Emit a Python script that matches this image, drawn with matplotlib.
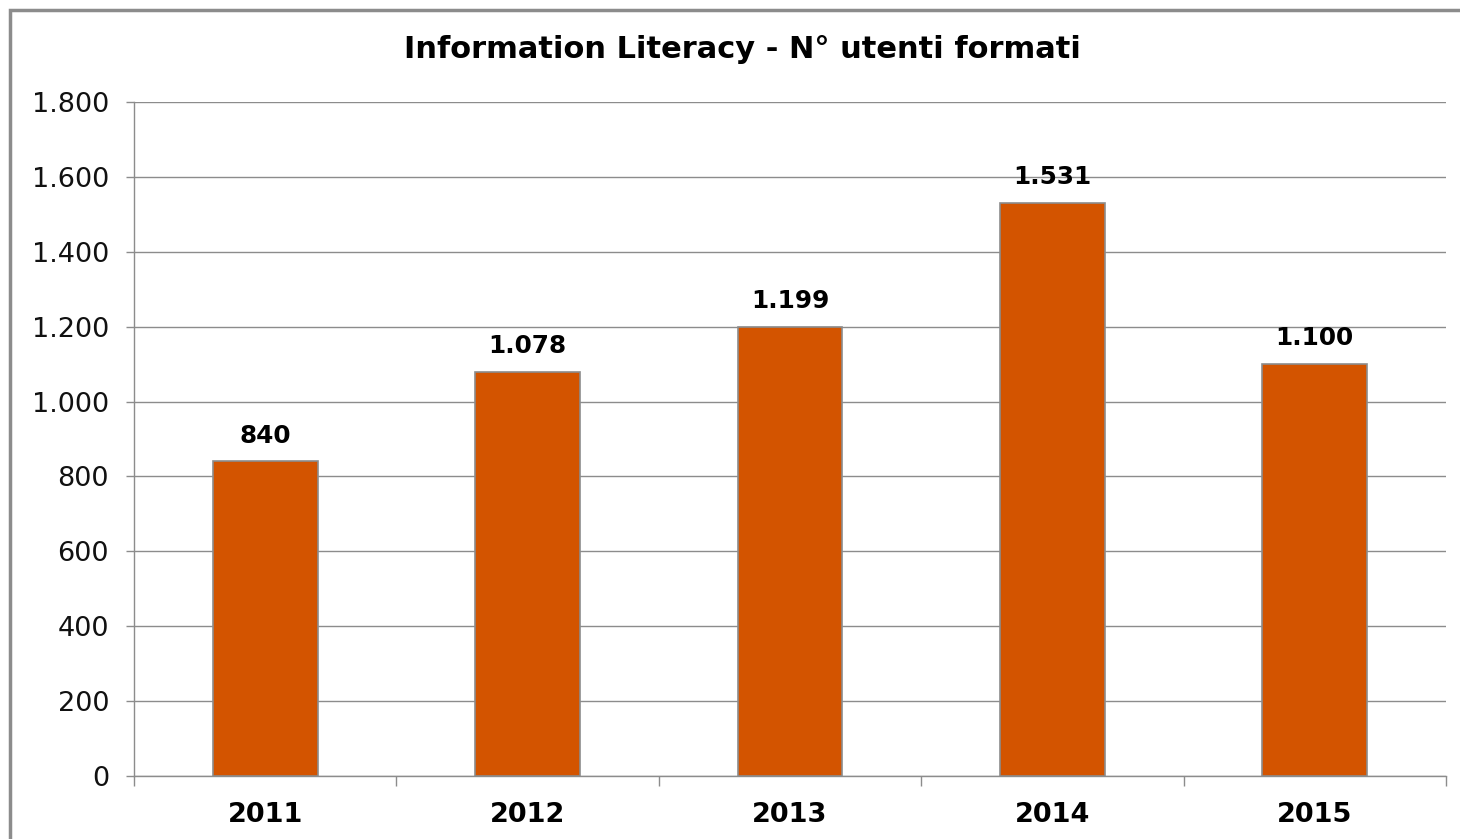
import matplotlib
matplotlib.use("Agg")
import matplotlib.pyplot as plt
from matplotlib.patches import Rectangle

years = ["2011", "2012", "2013", "2014", "2015"]
values = [840, 1078, 1199, 1531, 1100]
yticks = [0, 200, 400, 600, 800, 1000, 1200, 1400, 1600, 1800]

def fmt(v):
    return f"{v:,}".replace(",", ".")

plt.rcParams['font.family'] = ['DejaVu Sans']

fig = plt.figure(figsize=(14.6, 8.39), dpi=100)
W, H = 1460, 839
ax = fig.add_axes([134 / W, 1 - 776 / H, (1446 - 134) / W, (776 - 102) / H])

x = list(range(len(years)))
ax.bar(x, values, width=0.4, color="#D35400", edgecolor="#8C8C8C", linewidth=1.2, zorder=3)

ax.set_xlim(-0.5, len(years) - 0.5)
ax.set_ylim(0, 1800)
ax.set_yticks(yticks)
ax.set_yticklabels([fmt(v) for v in yticks], fontsize=19.5, color="#111111")
ax.yaxis.grid(True, color="#8C8C8C", linewidth=1.0, zorder=0)
ax.set_axisbelow(True)

ax.set_xticks(x)
ax.set_xticklabels(years, fontsize=19.5, fontweight="bold")
ax.set_xticks([i - 0.5 for i in range(len(years) + 1)], minor=True)
ax.tick_params(axis="x", which="major", length=0, pad=18.5)
ax.tick_params(axis="x", which="minor", length=7, color="#8C8C8C", width=1.0)
ax.tick_params(axis="y", length=6, color="#8C8C8C", width=1.0, pad=12)

for s in ["top", "right"]:
    ax.spines[s].set_visible(False)
for s in ["left", "bottom"]:
    ax.spines[s].set_color("#8C8C8C")
    ax.spines[s].set_linewidth(1.0)

for xi, v in zip(x, values):
    ax.annotate(fmt(v), (xi, v), xytext=(0, 10), textcoords="offset points",
                ha="center", va="bottom", fontsize=17.8, fontweight="bold", zorder=5)

fig.text(742 / W, 1 - 50 / H, "Information Literacy - N° utenti formati",
         ha="center", va="center", fontsize=22, fontweight="bold")

fig.patches.append(Rectangle((10 / W, -0.1), 1.2, 1 - 10 / H + 0.1, transform=fig.transFigure,
                             fill=False, edgecolor="#8C8C8C", linewidth=2.5))

fig.savefig("out.png", dpi=100)
